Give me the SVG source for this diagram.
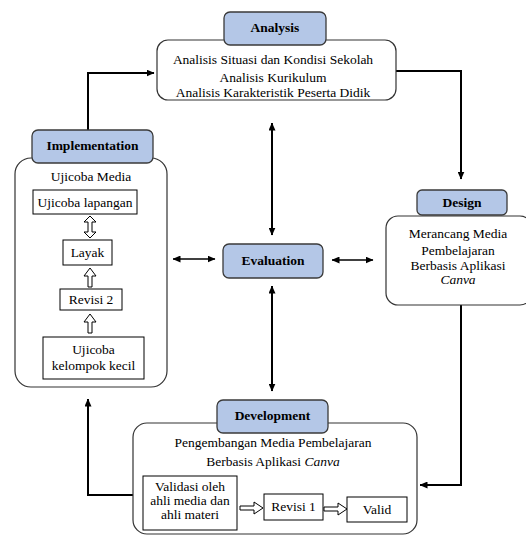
<svg xmlns="http://www.w3.org/2000/svg" width="526" height="536" viewBox="0 0 526 536">
<defs>
<marker id="ah" viewBox="0 0 8 7" markerWidth="8" markerHeight="7" refX="7.5" refY="3.5" orient="auto-start-reverse" markerUnits="userSpaceOnUse">
<path d="M0,0 L8,3.5 L0,7 z" fill="#000"/>
</marker>
</defs>
<style>
text{font-family:'Liberation Serif','Times New Roman',serif;font-size:13.5px;fill:#000;text-anchor:middle}
.lbl{font-weight:bold}
.tag{fill:#b4c7e7;stroke:#3a3a3a;stroke-width:1.3}
.main{fill:#fff;stroke:#333;stroke-width:1.2}
.sub{fill:#fff;stroke:#000;stroke-width:1}
.hol{fill:#fff;stroke:#000;stroke-width:1}
.con{fill:none;stroke:#000;stroke-width:2}
.con2{fill:none;stroke:#000;stroke-width:1.6}
</style>
<rect width="526" height="536" fill="#fff"/>

<g id="connectors">
<path class="con" d="M88,130 V73 H154" marker-end="url(#ah)"/>
<path class="con" d="M396,71 H461 V179" marker-end="url(#ah)"/>
<path class="con" d="M461,305 V485 H420" marker-end="url(#ah)"/>
<path class="con" d="M133,495 H88 V399" marker-end="url(#ah)"/>
<path class="con" d="M272,123 V235" marker-start="url(#ah)" marker-end="url(#ah)"/>
<path class="con" d="M272,286 V391" marker-start="url(#ah)" marker-end="url(#ah)"/>
<path class="con2" d="M173,259 H215" marker-start="url(#ah)" marker-end="url(#ah)"/>
<path class="con2" d="M332,260 H373" marker-start="url(#ah)" marker-end="url(#ah)"/>
</g>

<g id="analysis">
<rect class="main" x="157" y="40" width="239" height="60" rx="11"/>
<text x="273" y="64">Analisis Situasi dan Kondisi Sekolah</text>
<text x="273" y="82">Analisis Kurikulum</text>
<text x="273" y="97">Analisis Karakteristik Peserta Didik</text>
<rect class="tag" x="224" y="12" width="102" height="33" rx="6"/>
<text class="lbl" x="275" y="32">Analysis</text>
</g>

<g id="implementation">
<rect class="main" x="15" y="158" width="152" height="229" rx="16"/>
<text x="91" y="181">Ujicoba Media</text>
<rect class="sub" x="33" y="190" width="104" height="24"/>
<text x="85" y="207">Ujicoba lapangan</text>
<path class="hol" d="M88,222 L84,222 L90,216 L96,222 L92,222 L92,232 L96,232 L90,238 L84,232 L88,232 Z"/>
<rect class="sub" x="63" y="240" width="49" height="25"/>
<text x="87.5" y="257">Layak</text>
<path class="hol" d="M88,287 L88,276 L84,276 L90,268 L96,276 L92,276 L92,287 Z"/>
<rect class="sub" x="60" y="289" width="62" height="21"/>
<text x="91" y="304">Revisi 2</text>
<path class="hol" d="M88,333 L88,322 L84,322 L90,314 L96,322 L92,322 L92,333 Z"/>
<rect class="sub" x="43" y="337" width="101" height="42"/>
<text x="93.5" y="354">Ujicoba</text>
<text x="93.5" y="370">kelompok kecil</text>
<rect class="tag" x="32" y="130" width="121" height="33" rx="6"/>
<text class="lbl" x="92.5" y="150">Implementation</text>
</g>

<g id="design">
<rect class="main" x="386" y="216" width="146" height="89" rx="12"/>
<text x="458" y="238">Merancang Media</text>
<text x="458" y="255">Pembelajaran</text>
<text x="458" y="270">Berbasis Aplikasi</text>
<text x="458" y="284" font-style="italic">Canva</text>
<rect class="tag" x="417" y="190" width="90" height="25" rx="5"/>
<text class="lbl" x="462" y="207">Design</text>
</g>

<g id="evaluation">
<rect class="tag" x="223" y="244" width="100" height="34" rx="6"/>
<text class="lbl" x="273" y="265">Evaluation</text>
</g>

<g id="development">
<rect class="main" x="133" y="423" width="284" height="111" rx="14"/>
<text x="273" y="447">Pengembangan Media Pembelajaran</text>
<text x="273" y="466">Berbasis Aplikasi <tspan font-style="italic">Canva</tspan></text>
<rect class="sub" x="143" y="476" width="94" height="54"/>
<text x="190" y="491">Validasi oleh</text>
<text x="190" y="505">ahli media dan</text>
<text x="190" y="519">ahli materi</text>
<path class="hol" d="M240,506 L254,506 L254,502 L263,508 L254,514 L254,510 L240,510 Z"/>
<rect class="sub" x="264" y="494" width="59" height="26"/>
<text x="293.5" y="511">Revisi 1</text>
<path class="hol" d="M324,507 L338,507 L338,503 L347,509 L338,515 L338,511 L324,511 Z"/>
<rect class="sub" x="347" y="497" width="60" height="25"/>
<text x="377" y="514">Valid</text>
<rect class="tag" x="217" y="400" width="111" height="33" rx="6"/>
<text class="lbl" x="272.5" y="420">Development</text>
</g>
</svg>
